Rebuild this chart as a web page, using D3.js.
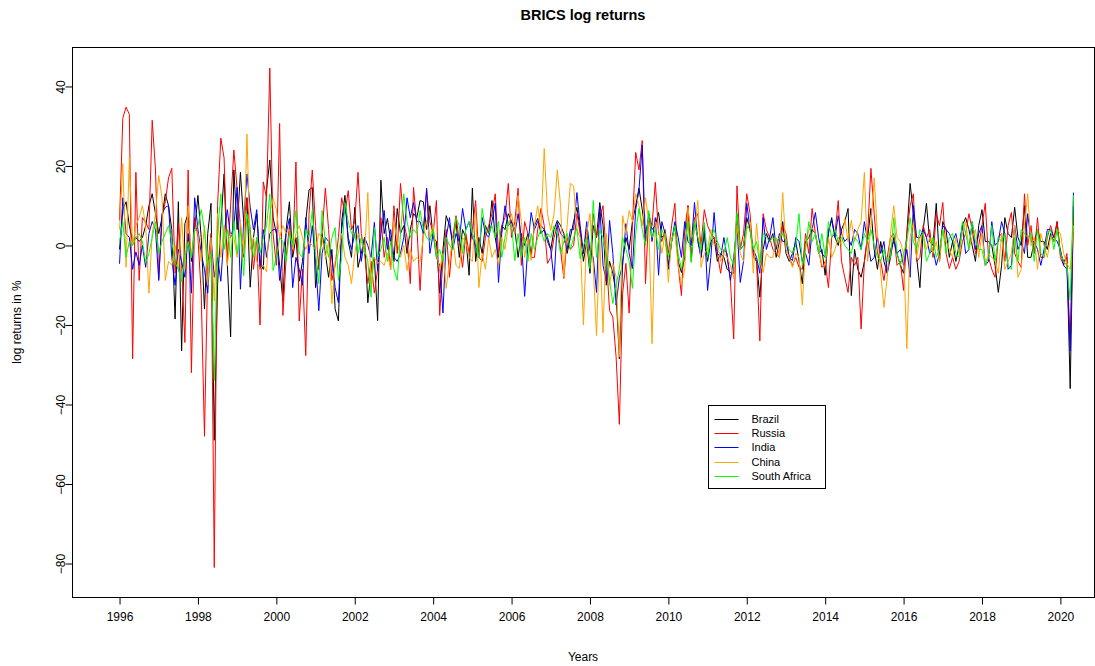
<!DOCTYPE html>
<html lang="en">
<head>
<meta charset="utf-8">
<style>
  body { margin: 0; background: #fff; }
  text { font-family: "Liberation Sans", Arial, Helvetica, sans-serif; }
</style>
<title>BRICS log returns</title>
<script src="https://cdn.jsdelivr.net/npm/d3@7"></script>
</head>
<body>
<div id="chart"></div>
<script>

// monthly log returns (%), first value Jan 1996, last May 2020
var startYear = 1996;

var brazil = [
  -1, 9, 11, 5, 1, 2, 1, 2, 5, 10, 13, 8,
  3, 7, 13, 10, 4, -18.5, 11, -26.5, 5.5, 8, -4, 4,
  12.6, 2, -16, 3, 10.6, -49, -10, 5, 18, -5, -23, 19,
  4, 18.4, 6, 12, -10.5, 2, 8, -4, -6, 14, 21.5, 7,
  3, -5, -14, 4, 11, -3, 2, -9, -4, 6, 14, 14.6,
  -10.6, -4, 3, -2, -8, -1, -16, -19, 6, 12.6, 1, -3,
  9.6, -5.5, -2, 2, -14.4, -6, -3, -18.9, 16.4, 3, 6.8, 1,
  -4, 9.3, 3, 5, -2, 4, 8, 7, 11.3, 11, 4, 10,
  2, 1, -12, -1, 7.5, 5, 1, 6, -3, 4, 2, -7.5,
  14.4, -4, 2, -2, 5, 3, 11.3, 2, -3, 5, 4, 8,
  6, 4, -3, 3, 0, 3, -2.5, 5, 6.8, 3, 4, 2,
  -1, 4, 6.3, 5, 3, -2, 2, 6, 9.6, 4, -4, 1,
  -7, 5, 2, 10.8, 5, -10, -4, -7, -12, -28.5, -4, 2,
  -1, 6, 10, 14.4, 9, 3, 7, 4, 5, 8.3, 2, 3,
  -5, 1, 5, -4, -6.8, -3, 10, -3, 6, 2, -3, 3,
  -4, 1, 2, -4, -2, -3, -6, -6.8, -7, 8, -1, 0,
  7, 4, -2, -4, -13, -1, 3, 1, 3, -3, 1, 6,
  -2, -4, -2, 1, -4, -9.6, 1, 2, 4, 3, -2, -1,
  -7.5, 3, 7, 2, 0, 4, 6, 9.3, -12.6, -1, -6, -8,
  -4, 2, 9.3, -1, -6, 1, -4, -7, -3, 2, -2, -5,
  -7, 3, 15.6, 8, -3, -10.6, 4, 10.6, 1, 0, 10.6, -4,
  6, 4, -3, 1, -4, 0, 5, 7, 4, 0, -4, 5,
  9, 1, 1, 0, -5, -11.8, -5, 7, 3, 2, 9.6, 2,
  0, 10, -3, -3, 1, 4, 1, 1, -1, 3, 1, 6,
  -2, -4, -3, -36, 10
];

var russia = [
  6.3, 32, 34.8, 33, -28.5, 18.4, -8.8, 7, 5.8, 4, 31.5, 19,
  -8.3, 7, 11, 17, 19.4, -7, 5.5, -5, -24.4, 19, -32, 7,
  2, -12, -48, -5, 3, -81, 10, 27, 22, -4, 10, 24,
  14, 5, -3, 12, 4, -6, 2, -20, 16, 12, 44.6, 3,
  -5, 30.7, -17.6, -3, 5, -2, 21, -19, -6, -27.7, 8, 19,
  5, -6, 3, 14.4, 4, -8.8, -5, 2, 12, 8, 13.8, 4,
  6, 18.4, 3, -2, -9.6, -4, -12, -6, 7, -3, 2, -6,
  10, -2, 15.6, 6, 2, -9.6, 14.6, 5, -11.3, 4, 13.8, 6,
  3, 11.3, -17.6, -3, 4, -8, 2, 7.5, 1, -5.5, 3, -2,
  4, 11.3, -3, -4, 2, 5, 8, 13, -2, 5, 7, 15.6,
  2, 6, 14.4, -5, 6, 3, -3, -3, 4, 9.3, 5, -4.5,
  -3, 2, 5, -1, -8.3, 2, -1, 0, 8, 3, -2, 4,
  -5, 8, 2, 7, 10, -3, -16.4, -18, -28, -45, -12, -4.5,
  -17, 5, 23.4, 19, 26.4, -9.6, 8, 5, 15.9, 3, 1, 4,
  -2, 5, 10.6, -5, -12.6, 4, 10, -4, 7, 8, 0, 9,
  5, 3, 2, -2, -7, -1, -2, -9, -23.5, 15, -1, 3,
  13, 8, -3, -4, -24, 8, 4, 2, -1, -2, -3, 5,
  3, -3, -5, -3, -5.5, -6, 3, -2, 9.3, 3, -1, -5.5,
  -4, -10.6, 2, 3, 11.3, -4, -8, -11.8, -3, -5, -3, -21,
  -4, 3, 19.4, 8, -2, -4, -8.8, -3, 2, 3, -5, -4,
  -11.3, 3, 10, 13, -4, -3, 5, 2, 4, -3, 8, 5,
  10.8, -2, -5.8, -3, -6, -4, 1, 3, 8, 4, -2, 0,
  5, 10.6, -3, -6, -8, 2, 3, -4, 5, 8.3, -2, -4,
  -5.5, 13, 0, 5, -2, 7, -3, -3, 2, 5, 2, 6,
  -3, -5, -2, -25.7, 8
];

var india = [
  -4.6, 12, 3, 2, -6, -1.6, -5, 0, -5.5, 3, 6, 4,
  -8.8, 8, 9.6, 10, -3, -10, -1, -4, -8, 3, -12, 12,
  4, -2, -6, -12, 2, -8, -3, -9, 3, 9, 2, 5,
  14.6, -11, 6, 18, 9.6, 4, 9, -6, 4, -3, 3, 4,
  4, -8.8, -2, 3, 6.8, -10.6, -3, -6, -10, 7, -2, 5,
  -4, -16.4, -2, 2, 1, -3, -10.6, -14.4, 4, 10.8, 2, -1,
  3, 5, -4, 2, 0, -3, 5.8, -6.3, 3, 8.8, -1, 4,
  -3, -4, -2, 2, 12, 7, 10.8, 6, 6, 3, 14.4, -2,
  3, -3, -5, -17, 2, 7, -1, 3, 1, 9.3, 4, 6,
  2, 0, -3, 7, 3, 2, 6, 10.6, -9.3, 3, 10, 5,
  6, 3, 8, 2, -12.8, 0, 8.3, 4, 6, 5, 4, 1,
  -1, -8.8, 5.8, 3, 2, -1, 4, 4, 13.3, 5, -2, 6,
  -1.3, -3, -11.8, 10, -5, -9, 6.3, -2, -15, -8, -5, 5.5,
  -2, -5.8, 9, 14, 25.2, 1, 8, 1, 7, -7.5, 6, 3,
  -6, 1, 6, 2, -3, 6, 1, 0, 10.8, 1, -3, 5,
  -11.3, -3, 8.3, -2, -3, 2, -3, -8.8, -3, 5, -9.3, -4,
  10.6, 4, -1, -3, -7, 7, -1, 2, 7, -1, 3, 1,
  1, -3, -3.8, 2, 1, -4, -2, -5, 4, 8.3, 2, -2,
  -3, 4, 6.3, 2, 7.5, 3, 1, 2, 0, 4, 3, -1,
  6, 1, -4, -3, 2, -2, 1, -7, -1, 1, -2, -1,
  -5, -1, -8, 10, 2, 2, 4, 2, -2, -1, -5, -2,
  5, 4, 3, 1, 3, -1, 5, -2, -1, 6, -1, 3,
  5, -5, -4, 6, 0, 1, 6, 3, -6, -5, 5, -1,
  1, -2, 8, 1, 1, -1, -5, -1, 4, 4, 2, 1,
  -1, -5, -6, -26.5, 13.3
];

var china = [
  4, 20.6, -5.5, 22, 0, 5, 7, 10, 5, -12, 3, 8,
  17.6, 12, -8.8, -4, -5, 0, -6.6, 7, -6, 10, -3, 4,
  3, -4, 5, -10, 2, -14, 8, -3, 5, -5, 3, 2,
  -3, 6, -2, 28, -1, 2, -4, -6, -5, -6.6, 8, 11.8,
  9, 2, 5, 3, 4, -1, 3, 5, 2, -1, 1, 0,
  -1, 3, 2, -3, 1, -14.6, -4, -2, 3, -3, -5, -9.6,
  -2, 3, 1, -2, 13.3, -10.6, -3, -4.5, -4, -5, -2, -6,
  6, 1, -3, 0, -6.3, -1, -4, -3, -4, 2, 6.3, 2,
  5, -2, -6, -2, -10.8, -4, 2, -5, -5.8, 2, 1, -3,
  -4, 8.8, -10.6, -2, -6, 2, -3, -1, -5, 2, -1, 5,
  8, 3, 12.6, 6, -3, 2, -3.8, 5, 10, 4, 24.4, 8,
  3.8, 8, 19, 10, -8, 5, 15.6, 15, 4, 2, -20, 3,
  8, -5, -22.7, 2, -22, 3, -10, -4.5, -8, -28, 7.5, 3,
  8.8, 6, 13, 10, 5, 12, 6, -24.7, 6, 4, -2, 3,
  -9.3, 2, 3, -5, -10, -6, 9.6, 2, 3, 11.3, -5.5, -2,
  -1, 4, 0, 1, -4, -2, -3, -5, -8.3, 5, -2, -4,
  4, 6, -7, 5.5, -4, -6.8, -2, -3, -3, 2, -3, 13.3,
  -1, -3, -5.5, -2, -3, -15, 0, 4, 4.5, 3, -1, -5,
  -5, 2, -3, -1, 2, 0, 6.8, 1, 6.3, 1, 4, 6,
  18.4, -4, 5, 17, 3, -7, -15.6, -8, 3, 10, 2, 1,
  -2, -26, 2, 5.8, -3, 2, 3, -1, 2, -2, 1, -4,
  4, 1, -1, -3, 2, -2, 3, 6, -1, 2, 4, -3,
  3, -5, -2, -3, -4, -7, 3, -6, -4, -2, 5, -8,
  -6, 5, 13, 0, 2, -6, 3, 0, -3, 2, 1, 4,
  3, -2, -4.5, -6, 5
];

var southAfrica = [
  1, 6, -3, 1, 0, 2, 3, 1, -4.3, -2, 2, 6,
  -2, 1, 3, 5, 1, -4.3, -6, -9, -3, 1, -3, 4,
  5, 9, 4, -5, -2, -34, 3, 13, -1, 4, -3, 6,
  -2, 4, -7.6, 8, 3, -3, 2, -2, 2, 5, 13, -6.3,
  -3, 2, 1, -4, 3, 0, 8.8, -2, -3, 4, 2, 8.8,
  -2, -9.6, 8.8, 1, -3, 2, 4.5, -8.8, -3, 10.8, 6, 3,
  3, -2, 2, -1, -4, -13, 4.5, -3, -1, 2, -4, 1,
  -6, -8.8, 3, 13, 6, 2, 4, 3, 8.8, 4, 2, 1,
  4, -3, -1, -4, 2, 0, -1, 7, 5, -2, 4, 6,
  3, 1, -3, 9.3, 4, 3, 5, 2, 6, -3, 2, 6,
  5, -3.8, 3, -3, 2, -4, 3, -1, 2, 4, 1, 3,
  2, 5, 3, -2, 1, 3, -1, 2, 4.3, -3.3, 0, 2,
  -5.8, 11.3, -3, 3.8, 2, -3, -9, -14.6, -10, -6, 2, -1,
  -4, -10.8, 3, 9.3, 4, 0, 8.8, 2, 4, -1, 4, 2,
  -3, 1, 5, -2, -5.8, -2, 6, -4.3, 6, 2, -1, 5.8,
  -3, 2, 4, 1, -1, -2, 2, -3, -5, 8.3, -1, 0,
  5, 4, -1, 1, -5, 3, 2, 1, 2, 1, 2, 3,
  1, -1, -2, 0, 8, -5, -1, 6, 1, 3, -2, 3,
  -3, 6, 2, 4, 1, 2, 0, -1, -2, 2, 1, -1,
  3, 1, 4, 0, -3, -4, -1, -4, -3, 7, -2, -5,
  -2, 1, 7, 1, -1, 4, 3, -4, -2, 2, -3, -1,
  4, -2, 2, 3, -2, -3, 6, 3, -1, 6, 1, -1,
  -1, -5, -3, 5, -4, 2, 1, 3, -5, -6, 2, -4,
  4, 3, 2, 3, -4, 4, -2, -3, 3, 4, -1, 4,
  -2, -4, -5, -13.8, 12.6
];

var seriesNames = ["Brazil", "Russia", "India", "China", "South Africa"];
var seriesColors = ["#000000", "#ff0000", "#0000ff", "#ffa500", "#00ff00"];
var yTicks = [-80, -60, -40, -20, 0, 20, 40];
var xTicks = d3.range(1996, 2021, 2);

var allSeries = [brazil, russia, india, china, southAfrica];

var width = 1095,
    height = 666;

var plotLeft = 72.5, plotRight = 1094.5, plotTop = 47.5, plotBottom = 597.5;

var x = d3.scaleLinear().domain([1994.80, 2020.87]).range([plotLeft, plotRight]);
var y = d3.scaleLinear().domain([-88.55, 49.8]).range([plotBottom, plotTop]);

var svg = d3.select("#chart")
  .append("svg")
  .attr("width", width)
  .attr("height", height);

// title
svg.append("text")
  .attr("x", 583)
  .attr("y", 20)
  .attr("text-anchor", "middle")
  .style("font-size", "14.5px")
  .style("font-weight", "bold")
  .text("BRICS log returns");

// lines
var line = d3.line()
  .x(function(d, i) { return x(startYear + i / 12); })
  .y(function(d) { return y(d); });

svg.append("g")
  .selectAll("path")
  .data(allSeries)
  .enter().append("path")
  .attr("d", line)
  .attr("fill", "none")
  .attr("stroke", function(d, i) { return seriesColors[i]; })
  .attr("stroke-width", 1);

// box
svg.append("rect")
  .attr("x", plotLeft)
  .attr("y", plotTop)
  .attr("width", plotRight - plotLeft)
  .attr("height", plotBottom - plotTop)
  .attr("fill", "none")
  .attr("stroke", "#000")
  .attr("stroke-width", 1);

// x axis
var xAxis = svg.append("g")
  .attr("transform", "translate(0," + plotBottom + ")")
  .call(d3.axisBottom(x).tickValues(xTicks).tickSize(7).tickPadding(8).tickFormat(d3.format("d")));
xAxis.select(".domain").remove();
xAxis.selectAll("text").style("font-size", "12px").style("font-family", "Liberation Sans, Arial, sans-serif");

// y axis
var yAxis = svg.append("g")
  .attr("transform", "translate(" + plotLeft + ",0)")
  .call(d3.axisLeft(y).tickValues(yTicks).tickSize(7).tickFormat(function(d) { return d < 0 ? "\u2212" + Math.abs(d) : d; }));
yAxis.select(".domain").remove();
yAxis.selectAll("text")
  .attr("x", null)
  .attr("dy", null)
  .attr("y", null)
  .attr("text-anchor", "middle")
  .attr("transform", "translate(-8,0) rotate(-90)")
  .style("font-size", "12px")
  .style("font-family", "Liberation Sans, Arial, sans-serif");

// axis titles
svg.append("text")
  .attr("x", 583)
  .attr("y", 661)
  .attr("text-anchor", "middle")
  .style("font-size", "12px")
  .text("Years");

svg.append("text")
  .attr("transform", "translate(21," + 322 + ") rotate(-90)")
  .attr("text-anchor", "middle")
  .style("font-size", "12px")
  .text("log returns in %");

// legend
var legend = svg.append("g").attr("transform", "translate(708.5,405.5)");
legend.append("rect")
  .attr("width", 117)
  .attr("height", 83)
  .attr("fill", "#fff")
  .attr("stroke", "#000");

var items = legend.selectAll(".item")
  .data(seriesNames)
  .enter().append("g")
  .attr("transform", function(d, i) { return "translate(0," + Math.round(14 + i * 14.2) + ")"; });

items.append("line")
  .attr("x1", 6).attr("x2", 30)
  .attr("stroke", function(d, i) { return seriesColors[i]; });

items.append("text")
  .attr("x", 43)
  .attr("dy", "0.35em")
  .style("font-size", "11px")
  .text(function(d) { return d; });

</script>
</body>
</html>
